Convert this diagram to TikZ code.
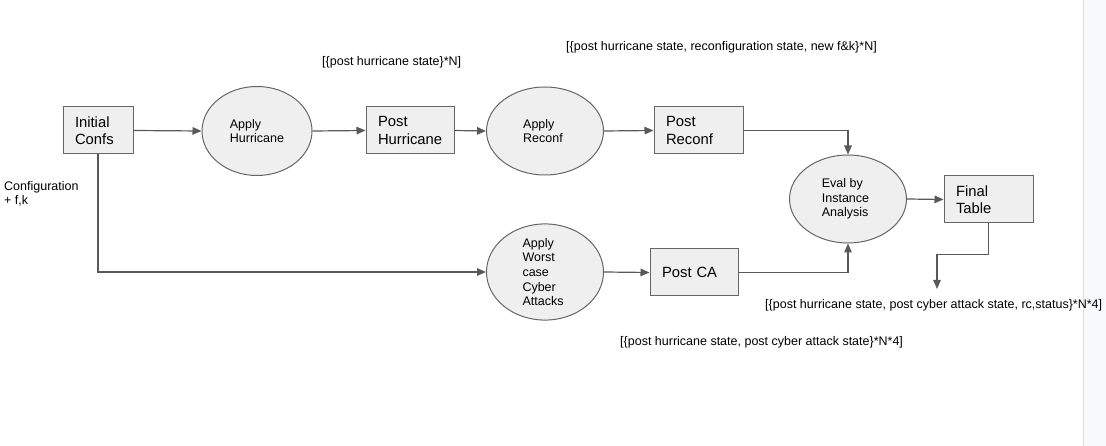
\documentclass[tikz,border=0pt]{standalone}
\usepackage{fontspec}
\setmainfont{Liberation Sans}
\usetikzlibrary{shapes.geometric,arrows.meta}
\definecolor{shapefill}{HTML}{EFEFEF}
\definecolor{shapeline}{HTML}{666666}
\definecolor{linecol}{HTML}{595959}
\definecolor{barfill}{HTML}{F8F9FA}
\definecolor{barline}{HTML}{DADCE0}
\tikzset{
  box/.style={draw=shapeline, fill=shapefill, line width=1pt, rectangle, minimum height=47pt, inner xsep=12pt, inner ysep=0pt, align=left, font=\fontsize{14.8}{17.5}\selectfont},
  oval/.style={draw=shapeline, fill=shapefill, line width=1pt, ellipse, inner sep=0pt, align=left, font=\fontsize{12.5}{14.4}\selectfont},
  lbl/.style={inner sep=0pt, anchor=west, align=left, font=\fontsize{12.5}{14.4}\selectfont},
  arr/.style={draw=linecol, line width=1.2pt, -{Triangle[length=9pt,width=7.5pt]}},
  ln/.style={draw=linecol, line width=1.2pt}
}
\begin{document}
\begin{tikzpicture}[x=1pt,y=-1pt]
\fill[white] (0,0) rectangle (1106,446);
\useasboundingbox (0,0) rectangle (1106,446);
\fill[barfill] (1083,0) rectangle (1106,446);
\draw[barline, line width=1pt] (1083,0) -- (1083,446);

\node[box, text width=46pt] (ic) at (98,130.5) {Initial\\Confs};
\node[oval, minimum width=110pt, minimum height=89pt] (ah) at (257,131) {Apply\\Hurricane};
\node[box, text width=64pt] (ph) at (410,130.5) {Post\\Hurricane};
\node[oval, minimum width=117pt, minimum height=88pt] (ar) at (545,131) {\hspace*{-4pt}Apply\\\hspace*{-4pt}Reconf};
\node[box, text width=65pt] (pr) at (698.5,130.5) {Post\\Reconf};
\node[oval, minimum width=117pt, minimum height=88pt, font=\fontsize{12.5}{14.7}\selectfont] (wc) at (545,272) {\hspace*{-4pt}Apply\\\hspace*{-4pt}Worst\\\hspace*{-4pt}case\\\hspace*{-4pt}Cyber\\\hspace*{-4pt}Attacks};
\node[box, text width=64pt] (pca) at (694,272.5) {Post CA};
\node[oval, minimum width=117pt, minimum height=88pt] (ev) at (848,199) {\hspace*{-5pt}Eval by\\\hspace*{-5pt}Instance\\\hspace*{-5pt}Analysis};
\node[box, text width=65pt] (ft) at (988.5,199.5) {Final\\Table};

\node[lbl, anchor=north west] (cfg) at (4,181) {Configuration\\+ f,k};
\node[lbl] (l1) at (322,62) {[\{post hurricane state\}*N]};
\node[lbl] (l2) at (566,47) {[\{post hurricane state, reconfiguration state, new f\&k\}*N]};
\node[lbl] (l3) at (765,305) {[\{post hurricane state, post cyber attack state, rc,status\}*N*4]};
\node[lbl] (l4) at (620,342) {[\{post hurricane state, post cyber attack state\}*N*4]};

\coordinate (ftend) at (937,289);

\draw[arr] (ic.east) -- (ah.west);
\draw[arr] (ah.east) -- (ph.west);
\draw[arr] (ph.east) -- (ar.west);
\draw[arr] (ar.east) -- (pr.west);
\draw[arr] (pr.east) -| (ev.north);
\draw[arr] (ic.south) |- (wc.west);
\draw[arr] (wc.east) -- (pca.west);
\draw[arr] (pca.east) -| (ev.south);
\draw[arr] (ev.east) -- (ft.west);
\draw[arr] (ft.south) -- ++(0,31) -| (ftend);
\end{tikzpicture}
\end{document}
